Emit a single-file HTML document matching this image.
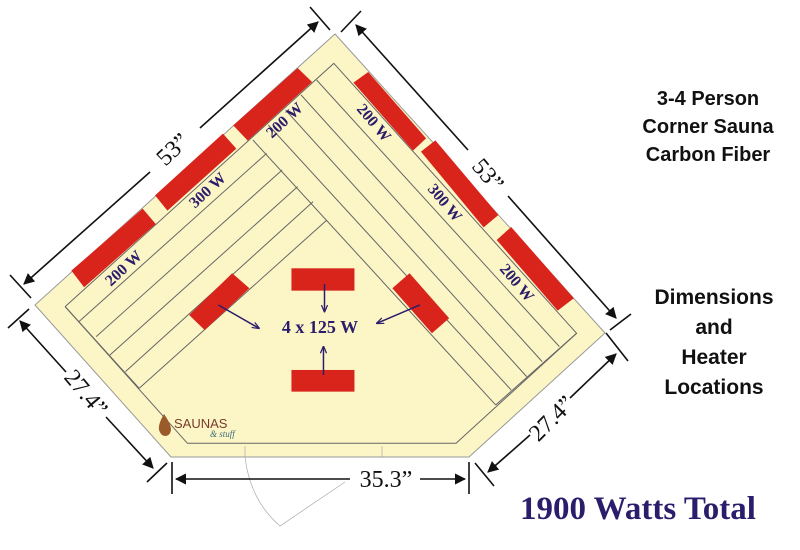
<!DOCTYPE html>
<html><head><meta charset="utf-8"><style>
html,body{margin:0;padding:0;background:#fff;}
svg{display:block;}
.w{font-family:"Liberation Serif",serif;font-weight:bold;fill:#2b1d6b;font-size:16px;}
.d{font-family:"Liberation Serif",serif;fill:#111;font-size:24px;}
.s{font-family:"Liberation Sans",sans-serif;font-weight:bold;fill:#111;text-anchor:middle;}
</style></head><body>
<svg width="800" height="550" viewBox="0 0 800 550" xmlns="http://www.w3.org/2000/svg">
<defs>
<marker id="a" viewBox="0 0 10 10" refX="9" refY="5" markerWidth="7" markerHeight="7" orient="auto-start-reverse"><path d="M0,0 L10,5 L0,10 z" fill="#111"/></marker>
<marker id="b" viewBox="0 0 10 10" refX="9" refY="5" markerWidth="5" markerHeight="5" orient="auto"><path d="M0,1 L10,5 L0,9" fill="none" stroke="#2b1d6b" stroke-width="1.6"/></marker>
</defs>
<polygon points="335,34 605,333 469,457 171,457 35,305" fill="#fcf6c6" stroke="#999" stroke-width="1"/>
<g transform="translate(60,60) scale(0.3444,0.3333)" fill="none" stroke="#666">
<polyline vector-effect="non-scaling-stroke" points="15,740 795,10 1500,820 1150,1150 370,1150 15,740" stroke-width="1"/>
<line vector-effect="non-scaling-stroke" x1="745" y1="60" x2="1450" y2="860"/>
<line vector-effect="non-scaling-stroke" x1="700" y1="105" x2="1400" y2="905"/>
<line vector-effect="non-scaling-stroke" x1="655" y1="150" x2="1355" y2="950"/>
<line vector-effect="non-scaling-stroke" x1="605" y1="195" x2="1310" y2="990"/>
<line vector-effect="non-scaling-stroke" x1="560" y1="240" x2="1265" y2="1035"/>
<line vector-effect="non-scaling-stroke" x1="1500" y1="820" x2="1265" y2="1035"/>
<line vector-effect="non-scaling-stroke" x1="600" y1="280" x2="55" y2="785"/>
<line vector-effect="non-scaling-stroke" x1="645" y1="330" x2="105" y2="830"/>
<line vector-effect="non-scaling-stroke" x1="690" y1="380" x2="145" y2="885"/>
<line vector-effect="non-scaling-stroke" x1="735" y1="425" x2="190" y2="935"/>
<line vector-effect="non-scaling-stroke" x1="775" y1="480" x2="230" y2="985"/>
<line vector-effect="non-scaling-stroke" x1="15" y1="740" x2="230" y2="985"/>
<g fill="#d9241c" stroke="none">
<polygon points="33,632 240,446 278,492 70,682"/>
<polygon points="276,406 473,221 512,266 312,452"/>
<polygon points="503,196 690,24 732,66 545,242"/>
<polygon points="852,68 895,36 1063,235 1025,272"/>
<polygon points="1048,275 1090,241 1273,465 1230,502"/>
<polygon points="1268,540 1310,501 1492,715 1445,752"/>
<polygon points="375,765 500,640 550,685 420,810"/>
<polygon points="965,685 1015,640 1130,775 1080,820"/>
<rect x="672" y="625" width="183" height="67"/>
<rect x="672" y="930" width="183" height="65"/>
</g>
<g stroke="#2b1d6b" stroke-width="1.5">
<line vector-effect="non-scaling-stroke" x1="460" y1="735" x2="578" y2="805" marker-end="url(#b)"/>
<line vector-effect="non-scaling-stroke" x1="1045" y1="735" x2="920" y2="790" marker-end="url(#b)"/>
<line vector-effect="non-scaling-stroke" x1="768" y1="672" x2="768" y2="755" marker-end="url(#b)"/>
<line vector-effect="non-scaling-stroke" x1="765" y1="945" x2="765" y2="860" marker-end="url(#b)"/>
</g>
</g>
<text x="320" y="333" class="w" text-anchor="middle" style="font-size:18px">4 x 125 W</text>
<text class="w" text-anchor="middle" transform="translate(127,272) rotate(-43)">200 W</text>
<text class="w" text-anchor="middle" transform="translate(211,194) rotate(-43)">300 W</text>
<text class="w" text-anchor="middle" transform="translate(288,124) rotate(-43)">200 W</text>
<text class="w" text-anchor="middle" transform="translate(370,126) rotate(50)">200 W</text>
<text class="w" text-anchor="middle" transform="translate(441,206) rotate(50)">300 W</text>
<text class="w" text-anchor="middle" transform="translate(513,286) rotate(50)">200 W</text>
<g stroke="#aaa" stroke-width="0.7" fill="none">
<line x1="245" y1="446" x2="245" y2="457"/><line x1="382" y1="446" x2="382" y2="457"/>
<path d="M245,457 Q250,500 280,526 L345,482"/>
</g>
<path d="M164,414 q-6,10 -5,16 q2,6 6,6 q5,0 6,-6 q0,-6 -7,-16z" fill="#9a5a2a"/>
<text x="174" y="428" font-family="Liberation Sans,sans-serif" font-size="13" fill="#7a3a2a">SAUNAS</text>
<text x="210" y="437" font-family="Liberation Serif,serif" font-style="italic" font-size="9" fill="#3a6a7a">&amp; stuff</text>
<g stroke="#111" stroke-width="1.6" fill="none">
<line x1="24" y1="284" x2="150" y2="172" marker-start="url(#a)"/>
<line x1="200" y1="128" x2="318" y2="22" marker-end="url(#a)"/>
<line x1="310" y1="7" x2="330" y2="30"/><line x1="10" y1="275" x2="31" y2="298"/>
<line x1="356" y1="25" x2="468" y2="150" marker-start="url(#a)"/>
<line x1="508" y1="196" x2="616" y2="318" marker-end="url(#a)"/>
<line x1="341" y1="32" x2="361" y2="11"/><line x1="610" y1="330" x2="631" y2="314"/>
<line x1="20" y1="321" x2="66" y2="372" marker-start="url(#a)"/>
<line x1="106" y1="417" x2="153" y2="468" marker-end="url(#a)"/>
<line x1="8" y1="328" x2="29" y2="309"/><line x1="147" y1="482" x2="167" y2="463"/>
<line x1="616" y1="354" x2="570" y2="398" marker-start="url(#a)"/>
<line x1="530" y1="435" x2="488" y2="472" marker-end="url(#a)"/>
<line x1="606" y1="333" x2="628" y2="361"/><line x1="475" y1="463" x2="494" y2="486"/>
<line x1="176" y1="479" x2="350" y2="479" marker-start="url(#a)"/>
<line x1="420" y1="479" x2="465" y2="479" marker-end="url(#a)"/>
<line x1="172" y1="462" x2="172" y2="494"/><line x1="469" y1="462" x2="469" y2="494"/>
</g>
<text class="d" text-anchor="middle" transform="translate(178,155) rotate(-43)">53”</text>
<text class="d" text-anchor="middle" transform="translate(482,180) rotate(50)">53”</text>
<text class="d" text-anchor="middle" transform="translate(80,398) rotate(50)">27.4”</text>
<text class="d" text-anchor="middle" transform="translate(557,424) rotate(-45)">27.4”</text>
<text class="d" x="386" y="487" text-anchor="middle">35.3”</text>
<text class="s" x="708" y="105" font-size="20">3-4 Person</text>
<text class="s" x="708" y="133" font-size="20">Corner Sauna</text>
<text class="s" x="708" y="161" font-size="20">Carbon Fiber</text>
<text class="s" x="714" y="304" font-size="21">Dimensions</text>
<text class="s" x="714" y="334" font-size="21">and</text>
<text class="s" x="714" y="364" font-size="21">Heater</text>
<text class="s" x="714" y="394" font-size="21">Locations</text>
<text x="638" y="519" text-anchor="middle" font-family="Liberation Serif,serif" font-weight="bold" font-size="33" fill="#2b1d6b">1900 Watts Total</text>
</svg>
</body></html>
